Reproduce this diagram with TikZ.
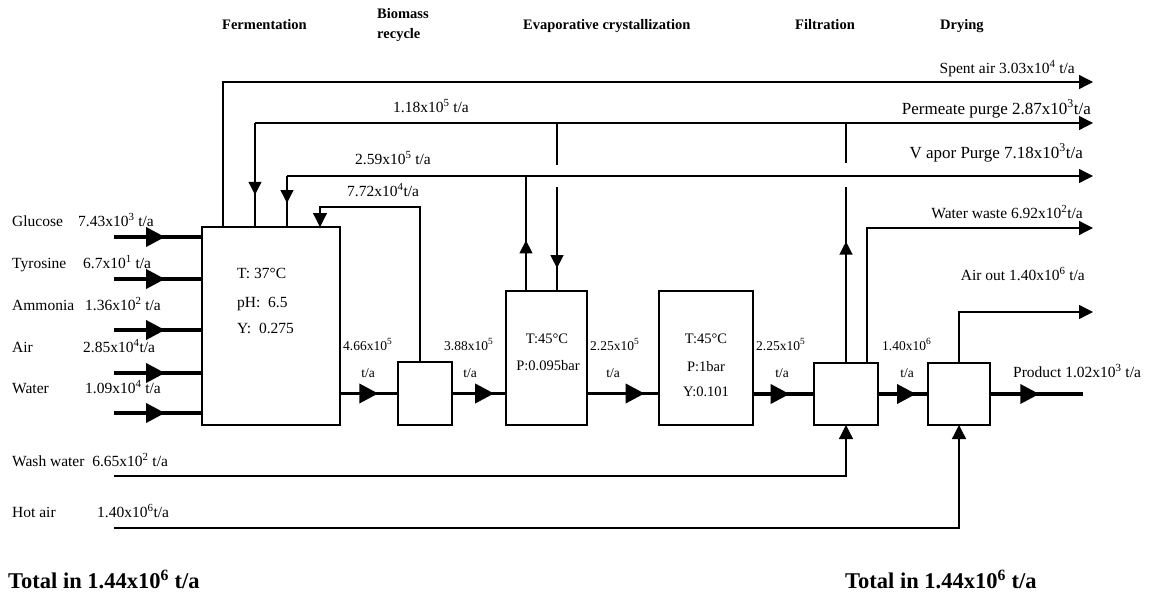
\documentclass[tikz,border=0pt]{standalone}
\usepackage{fontspec}
\setmainfont{Liberation Serif}
\usetikzlibrary{arrows.meta,decorations.markings}
\newcommand\sps[1]{\textsuperscript{#1}}
\tikzset{
  box/.style={draw, line width=1.3pt, inner sep=0pt, outer sep=0pt},
  flow/.style={line width=3.8pt},
  pipe/.style={line width=1.3pt},
  marr/.style={postaction={decorate}, decoration={markings, mark=at position #1 with {\arrow{Triangle[length=19pt,width=19pt]}}}},
  sarr/.style={postaction={decorate}, decoration={markings, mark=at position #1 with {\arrow{Triangle[length=13pt,width=13pt]}}}},
  endarr/.style={-{Triangle[length=14pt,width=14pt]}},
  lab/.style={font=\fontsize{15.5}{18}\selectfont, inner sep=0pt},
  llab/.style={font=\fontsize{17}{19}\selectfont, inner sep=0pt},
  slab/.style={font=\fontsize{13.5}{15}\selectfont, inner sep=0pt},
  blab/.style={font=\fontsize{14.5}{16}\selectfont, inner sep=0pt},
  head/.style={font=\fontsize{14.5}{17}\selectfont\bfseries, inner sep=0pt},
  total/.style={font=\fontsize{22.5}{26}\selectfont\bfseries, inner sep=0pt},
}
\begin{document}
\begin{tikzpicture}[x=1pt,y=-1pt]
\useasboundingbox (0,0) rectangle (1160,597);
% boxes
\node[box, minimum width=138pt, minimum height=198pt] (ferm) at (271,326) {};
\node[box, minimum width=54pt, minimum height=63pt] (bio) at (425,393.5) {};
\node[box, minimum width=81pt, minimum height=134pt] (evap) at (546.5,358) {};
\node[box, minimum width=94pt, minimum height=134pt] (cryst) at (706,358) {};
\node[box, minimum width=64pt, minimum height=62pt] (filt) at (846,394) {};
\node[box, minimum width=62pt, minimum height=62pt] (dry) at (959,394) {};
% headers
\node[head, anchor=base west] (h1) at (222,29) {Fermentation};
\node[head, anchor=base west] (h2a) at (377,19) {Biomass};
\node[head, anchor=base west] (h2b) at (377,38) {recycle};
\node[head, anchor=base west] (h3) at (523,30) {Evaporative crystallization};
\node[head, anchor=base west] (h4) at (795,30) {Filtration};
\node[head, anchor=base west] (h5) at (940,30) {Drying};
% inputs
\coordinate (in1) at (114,237);
\coordinate (in2) at (114,279);
\coordinate (in3) at (114,330);
\coordinate (in4) at (114,373);
\coordinate (in5) at (114,413);
\foreach \i in {1,...,5} {\draw[flow, marr=0.58] (in\i) -- (in\i -| ferm.west);}
\node[lab, anchor=base west] (l1) at (12,226) {Glucose};
\node[lab, anchor=base west] (v1) at (78,226) {7.43x10\sps{3} t/a};
\node[lab, anchor=base west] (l2) at (12,268) {Tyrosine};
\node[lab, anchor=base west] (v2) at (83,268) {6.7x10\sps{1} t/a};
\node[lab, anchor=base west] (l3) at (12,310) {Ammonia};
\node[lab, anchor=base west] (v3) at (85,310) {1.36x10\sps{2} t/a};
\node[lab, anchor=base west] (l4) at (12,352) {Air};
\node[lab, anchor=base west] (v4) at (83,352) {2.85x10\sps{4}t/a};
\node[lab, anchor=base west] (l5) at (12,393) {Water};
\node[lab, anchor=base west] (v5) at (85,393) {1.09x10\sps{4} t/a};
% box texts
\node[lab, anchor=base west] (ft1) at (237,278) {T: 37°C};
\node[lab, anchor=base west] (ft2) at (237,307) {pH:\ \ 6.5};
\node[lab, anchor=base west] (ft3) at (237,333) {Y:\ \ 0.275};
\node[blab, anchor=base] (et1) at (547,343) {T:45°C};
\node[blab, anchor=base] (et2) at (548,370) {P:0.095bar};
\node[blab, anchor=base] (ct1) at (706,343) {T:45°C};
\node[blab, anchor=base] (ct2) at (706,371) {P:1bar};
\node[blab, anchor=base] (ct3) at (706,396) {Y:0.101};
% main line
\draw[flow, marr=0.66] (ferm.east |- bio.west) -- (bio.west);
\draw[flow, marr=0.78] (bio.east) -- (bio.east -| evap.west);
\draw[flow, marr=0.8] (evap.east |- bio.east) -- (cryst.west |- bio.east);
\draw[flow, marr=0.6] (cryst.east |- filt.west) -- (filt.west);
\draw[flow, marr=0.76] (filt.east) -- (dry.west);
\coordinate (prod) at (1083,394);
\draw[flow, marr=0.53] (dry.east) -- (prod);
\node[slab, anchor=base west] (m1) at (343,350) {4.66x10\sps{5}};
\node[slab, anchor=base] (m1u) at (368,377) {t/a};
\node[slab, anchor=base west] (m2) at (444,350) {3.88x10\sps{5}};
\node[slab, anchor=base] (m2u) at (470,377) {t/a};
\node[slab, anchor=base west] (m3) at (590,350) {2.25x10\sps{5}};
\node[slab, anchor=base] (m3u) at (613,377) {t/a};
\node[slab, anchor=base west] (m4) at (756,350) {2.25x10\sps{5}};
\node[slab, anchor=base] (m4u) at (782,377) {t/a};
\node[slab, anchor=base west] (m5) at (882,350) {1.40x10\sps{6}};
\node[slab, anchor=base] (m5u) at (907,377) {t/a};
\node[lab, anchor=base west] (pr) at (1013,377) {Product 1.02x10\sps{3} t/a};
% recycle and purge lines
\coordinate (saC) at (223,82); \coordinate (saE) at (1093,82);
\draw[pipe, endarr] (saC |- ferm.north) -- (saC) -- (saE);
\coordinate (pC) at (255,123); \coordinate (pE) at (1093,123);
\draw[pipe, endarr] (pC) -- (pE);
\draw[pipe, sarr=0.69] (pC) -- (pC |- ferm.north);
\coordinate (vC) at (287,176); \coordinate (vE) at (1093,176);
\draw[pipe, endarr] (vC) -- (vE);
\draw[pipe, sarr=0.53] (vC) -- (vC |- ferm.north);
\coordinate (bC) at (420,207); \coordinate (bF) at (320,207);
\draw[pipe, endarr] (bC |- bio.north) -- (bC) -- (bF) -- (bF |- ferm.north);
\coordinate (e1) at (526,176);
\draw[pipe, sarr=0.44] (e1 |- evap.north) -- (e1);
\coordinate (e2t) at (557,123); \coordinate (e2a) at (557,165); \coordinate (e2b) at (557,187);
\draw[pipe] (e2t) -- (e2a);
\draw[pipe, sarr=0.78] (e2b) -- (e2b |- evap.north);
\coordinate (f1t) at (846,123); \coordinate (f1a) at (846,163); \coordinate (f1b) at (846,187);
\draw[pipe, sarr=0.69] (f1b |- filt.north) -- (f1b);
\draw[pipe] (f1a) -- (f1t);
\coordinate (fw) at (867,228); \coordinate (fwE) at (1093,228);
\draw[pipe, endarr] (fw |- filt.north) -- (fw) -- (fwE);
\coordinate (dw) at (959,312); \coordinate (dwE) at (1093,312);
\draw[pipe, endarr] (dry.north) -- (dw) -- (dwE);
\coordinate (ww) at (114,476); \coordinate (wwC) at (846,476);
\draw[pipe, endarr] (ww) -- (wwC) -- (filt.south);
\coordinate (ha) at (114,528); \coordinate (haC) at (959,528);
\draw[pipe, endarr] (ha) -- (haC) -- (dry.south);
% labels of lines
\node[lab, anchor=base east] (o1) at (1075,73) {Spent air 3.03x10\sps{4} t/a};
\node[llab, anchor=base east] (o2) at (1091,114) {Permeate purge 2.87x10\sps{3}t/a};
\node[llab, anchor=base east] (o3) at (1083,158) {V apor Purge 7.18x10\sps{3}t/a};
\node[lab, anchor=base east] (o4) at (1083,218) {Water waste 6.92x10\sps{2}t/a};
\node[lab, anchor=base east] (o5) at (1085,280) {Air out 1.40x10\sps{6} t/a};
\node[lab, anchor=base west] (r1) at (393,112) {1.18x10\sps{5} t/a};
\node[lab, anchor=base west] (r2) at (355,164) {2.59x10\sps{5} t/a};
\node[lab, anchor=base west] (r3) at (347,196) {7.72x10\sps{4}t/a};
\node[lab, anchor=base west] (w1) at (12,466) {Wash water\ \ 6.65x10\sps{2} t/a};
\node[lab, anchor=base west] (w2) at (12,517) {Hot air};
\node[lab, anchor=base west] (w3) at (97,517) {1.40x10\sps{6}t/a};
\node[total, anchor=base west] (t1) at (8,588) {Total in 1.44x10\sps{6} t/a};
\node[total, anchor=base west] (t2) at (845,588) {Total in 1.44x10\sps{6} t/a};
\end{tikzpicture}
\end{document}
